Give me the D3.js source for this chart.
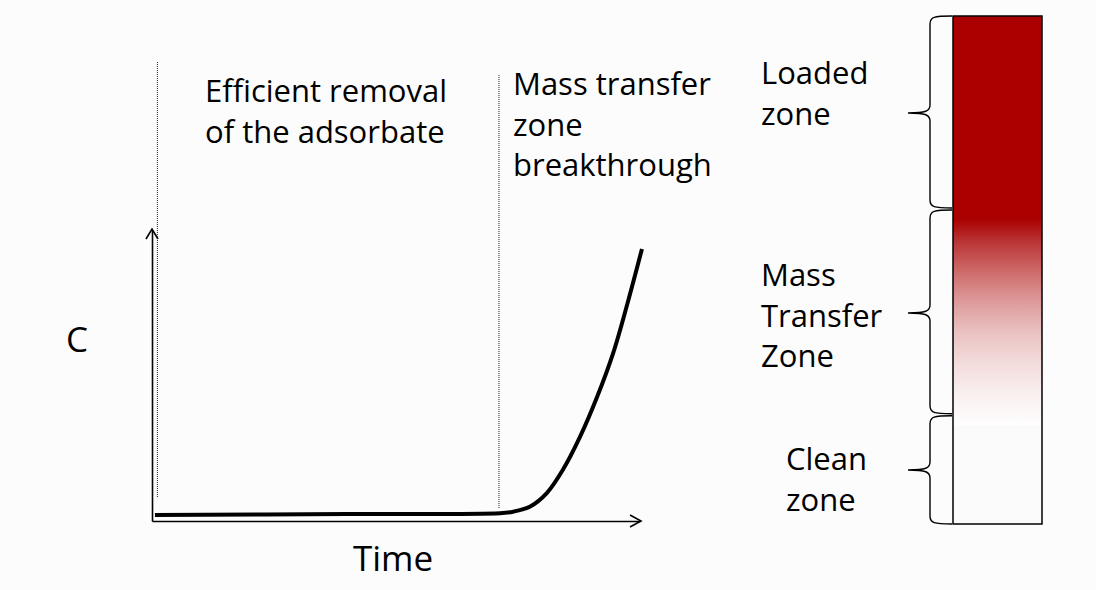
<!DOCTYPE html>
<html><head><meta charset="utf-8">
<script src="https://cdn.jsdelivr.net/npm/d3@7"></script>
<style>
html,body{margin:0;padding:0;background:#fcfcfc;}
svg{display:block;}
text{font-family:"Open Sans",Lato,sans-serif;fill:#000;}
</style></head>
<body>
<svg id="chart" width="1096" height="590"></svg>
<script>
// ---- data ----
const timeValues = [0.6, 40, 71.3, 74.0, 77.5, 80.9, 84.2, 87.7, 91.2, 94.5, 97.5, 100.4];
const concValues = [0.021, 0.024, 0.027, 0.032, 0.050, 0.096, 0.176, 0.289, 0.426, 0.577, 0.752, 0.935];
const phaseBounds = [1, 71];            // dotted separators on time axis
const phaseLabels = [["Efficient removal", "of the adsorbate"], ["Mass transfer", "zone", "breakthrough"]];
const zoneBounds = [0, 0.38, 0.785, 1]; // fraction of bed depth
const zoneLabels = [["Loaded", "zone"], ["Mass", "Transfer", "Zone"], ["Clean", "zone"]];
const axisLabels = {x: "Time", y: "C"};

const svg = d3.select("#chart");
const x = d3.scaleLinear().domain([0, 100]).range([152, 640]);
const y = d3.scaleLinear().domain([0, 1]).range([521, 230]);
const bed = d3.scaleLinear().domain([0, 1]).range([16, 524]);

// axes
const gx = svg.append("g").attr("transform", `translate(0,${y(0)})`)
  .call(d3.axisBottom(x).tickValues([]).tickSizeOuter(0));
const gy = svg.append("g").attr("transform", `translate(${x(0)},0)`)
  .call(d3.axisLeft(y).tickValues([]).tickSizeOuter(0));
[gx, gy].forEach(g => g.select(".domain").attr("stroke", "#000").attr("stroke-width", 1.6));
// arrow heads
const ax = x(100), ay = y(0);
svg.append("path").attr("d", `M${ax-10},${ay-6}L${ax+1},${ay}L${ax-10},${ay+6}`)
  .attr("fill", "none").attr("stroke", "#000").attr("stroke-width", 1.6);
const tx = x(0), ty = y(1);
svg.append("path").attr("d", `M${tx-6},${ty+9}L${tx},${ty-1}L${tx+6},${ty+9}`)
  .attr("fill", "none").attr("stroke", "#000").attr("stroke-width", 1.6);

// dotted phase separators
const sepTops = [62, 75], sepBots = [497, 508];
phaseBounds.forEach((b, i) => {
  svg.append("line").attr("x1", x(b) + 0.5).attr("x2", x(b) + 0.5)
    .attr("y1", sepTops[i]).attr("y2", sepBots[i])
    .attr("stroke", "#222").attr("stroke-width", 1).attr("stroke-dasharray", "1,1");
});

// phase labels
const phaseX = [205, 513], phaseY = [102, 95];
phaseLabels.forEach((lines, i) => {
  const t = svg.append("text").attr("x", phaseX[i]).attr("y", phaseY[i]).attr("font-size", 31);
  lines.forEach((l, j) => t.append("tspan").attr("x", phaseX[i]).attr("dy", j ? 40.5 : 0).text(l));
});

// curve
const pts = timeValues.map((t, i) => [t, concValues[i]]);
svg.append("path").datum(pts)
  .attr("d", d3.line().x(d => x(d[0])).y(d => y(d[1])).curve(d3.curveCatmullRom.alpha(0.5)))
  .attr("fill", "none").attr("stroke", "#000").attr("stroke-width", 4);

// axis labels
svg.append("text").attr("x", 66).attr("y", 352).attr("font-size", 35).text(axisLabels.y);
svg.append("text").attr("x", 353).attr("y", 571).attr("font-size", 35).text(axisLabels.x);

// bed column with gradient
const defs = svg.append("defs");
const grad = defs.append("linearGradient").attr("id", "bedGrad")
  .attr("x1", 0).attr("x2", 0).attr("y1", 0).attr("y2", 1);
const stops = [[0, "#aa0000"], [0.40, "#aa0000"], [0.445, "#ba3535"], [0.50, "#cd6868"],
  [0.555, "#dc9595"], [0.62, "#eac0c0"], [0.68, "#f3dada"], [0.74, "#f9eeee"], [0.79, "#fdfafa"],
  [0.805, "#ffffff"], [0.806, "#fbfbfb"], [1, "#fbfbfb"]];
stops.forEach(s => grad.append("stop").attr("offset", s[0]).attr("stop-color", s[1]));
svg.append("rect").attr("x", 953).attr("y", bed(0)).attr("width", 89).attr("height", bed(1) - bed(0))
  .attr("fill", "url(#bedGrad)").attr("stroke", "#000").attr("stroke-width", 1.5);

// braces
const xr = 952, xs = 930, xt = 908;
function brace(y0, y1, ym) {
  return `M${xr},${y0}C${xs+4},${y0} ${xs},${y0+1} ${xs},${y0+8}L${xs},${ym-8}` +
    `C${xs},${ym-2} ${xs-4},${ym} ${xt},${ym}C${xs-4},${ym} ${xs},${ym+2} ${xs},${ym+8}` +
    `L${xs},${y1-8}C${xs},${y1-1} ${xs+4},${y1} ${xr},${y1}`;
}
const braceMid = [113, 313, 470];
for (let i = 0; i < zoneLabels.length; i++) {
  svg.append("path").attr("d", brace(bed(zoneBounds[i]) + (i ? 1 : 0), bed(zoneBounds[i + 1]) - (i < 2 ? 1 : 0), braceMid[i]))
    .attr("fill", "none").attr("stroke", "#000").attr("stroke-width", 1.4);
}

// zone labels
const zoneX = [761, 761, 786], zoneY = [84, 286, 470];
zoneLabels.forEach((lines, i) => {
  const t = svg.append("text").attr("x", zoneX[i]).attr("y", zoneY[i]).attr("font-size", 31);
  lines.forEach((l, j) => t.append("tspan").attr("x", zoneX[i]).attr("dy", j ? 40.5 : 0).text(l));
});
</script>
</body></html>
